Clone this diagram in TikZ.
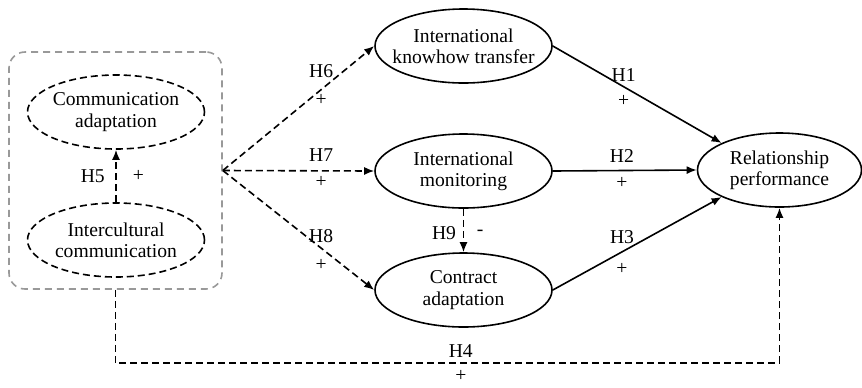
\documentclass[tikz,border=0pt]{standalone}
\usepackage{fontspec}
\setmainfont{Liberation Serif}
\usetikzlibrary{shapes.geometric,arrows.meta}

\begin{document}
\begin{tikzpicture}[x=0.5pt,y=-0.5pt,line width=0.8pt,
    font=\fontsize{9.8}{10.6}\selectfont,
    construct/.style={ellipse,draw,align=center,inner xsep=-6pt,inner ysep=0pt,minimum width=88.5pt,minimum height=37pt},
    dconstruct/.style={construct,dash pattern=on 3.5pt off 2pt},
    groupbox/.style={draw=black!40,rounded corners=8pt,dash pattern=on 3.5pt off 2.5pt,
        minimum width=106.5pt,minimum height=118.5pt,inner sep=0pt},
    effect/.style={-{Latex[length=5pt,width=4pt]}},
    deffect/.style={effect,dash pattern=on 3.5pt off 2pt}]
 \useasboundingbox (0,0) rectangle (862,387);

 % constructs
 \node[groupbox] (grp) at (115.5,170.5) {};
 \node[dconstruct] (comad) at (116,112) {Communication\\adaptation};
 \node[dconstruct] (intcom) at (116,240) {Intercultural\\communication};
 \node[construct] (know) at (463.5,46) {International\\knowhow transfer};
 \node[construct] (moni) at (463.5,171) {International\\monitoring};
 \node[construct] (contr) at (463.5,290) {Contract\\adaptation};
 \node[construct,minimum width=82pt] (rel) at (779.5,170) {Relationship\\performance};

 % hypotheses
 \draw[deffect] (intcom) -- node[left=1.9pt]{H5} node[right=4.7pt]{+} (comad);
 \draw[deffect] (grp.east) -- node[pos=.65,above=2.2pt]{H6} node[pos=.65,below=-1.5pt]{+} (know.west);
 \draw[deffect] (grp.east) -- node[pos=.65,above=.75pt]{H7} node[pos=.65,below=-1pt]{+} (moni.west);
 \draw[deffect] (grp.east) -- node[pos=.65,above=-.75pt]{H8} node[pos=.65,below=2pt]{+} (contr.west);
 \draw[deffect] (moni) -- node[pos=.55,left=0pt]{H9} node[pos=.55,right=3pt]{-} (contr);

 \draw[effect] (know.east) -- node[pos=.42,above=-1pt]{H1} node[pos=.42,below=.8pt]{+} (rel.155);
 \draw[effect] (moni.east) -- node[pos=.48,above=.3pt]{H2} node[pos=.48,below=-.5pt]{+} (rel.west);
 \draw[effect] (contr.east) -- node[pos=.41,above=.2pt]{H3} node[pos=.41,below=2pt]{+} (rel.205);

 \coordinate (h4l) at (115.5,363); \coordinate (h4r) at (779.5,363);
 \draw[deffect] (grp.south) -- (h4l) -- node[pos=.52,above=-1pt]{H4} node[pos=.52,below=0pt]{+} (h4r) -- (rel.south);
\end{tikzpicture}
\end{document}
